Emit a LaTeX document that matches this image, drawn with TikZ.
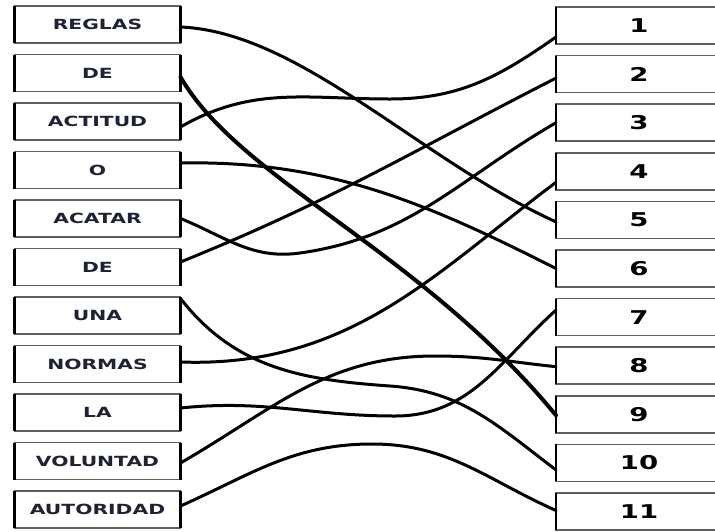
\documentclass[tikz,border=0pt]{standalone}
\usepackage{fontspec}
\newfontfamily\wordfont[FakeStretch=1.45]{DejaVu Sans Bold}
\newfontfamily\numfont[FakeStretch=1.45]{DejaVu Sans Bold}
\usepackage{tikz}
\usetikzlibrary{positioning}
\definecolor{edgegrey}{RGB}{95,95,95}
\definecolor{wordink}{RGB}{30,34,52}

\begin{document}
\begin{tikzpicture}[x=1pt, y=-1pt,
    box/.style={rectangle, draw=edgegrey, line width=1.6pt, minimum width=166pt,
                minimum height=37pt, inner sep=0pt, outer sep=0pt,
                append after command={(\tikzlastnode.north west) edge[line width=2.8pt, black] (\tikzlastnode.south west)}},
    word/.style={box, font=\wordfont\fontsize{14}{16}\selectfont, text=wordink,
                 append after command={(\tikzlastnode.north east) edge[line width=2.8pt, black] (\tikzlastnode.south east)}},
    num/.style={box, font=\numfont\fontsize{19}{21}\selectfont, text=black},
    link/.style={line width=3pt, line cap=round},
    boldlink/.style={line width=4pt, line cap=round}
]
\useasboundingbox (0,0) rectangle (715,531);

% words on the left
\node[word] (reglas) at (97.5,24.5) {REGLAS};
\node[word, below=11.5pt of reglas] (deA) {DE};
\node[word, below=11.5pt of deA] (actitud) {ACTITUD};
\node[word, below=11.5pt of actitud] (o) {O};
\node[word, below=11.5pt of o] (acatar) {ACATAR};
\node[word, below=11.5pt of acatar] (deB) {DE};
\node[word, below=11.5pt of deB] (una) {UNA};
\node[word, below=11.5pt of una] (normas) {NORMAS};
\node[word, below=11.5pt of normas] (la) {LA};
\node[word, below=11.5pt of la] (voluntad) {VOLUNTAD};
\node[word, below=11.5pt of voluntad] (autoridad) {AUTORIDAD};

% numbers on the right
\node[num] (r1) at (639,25.5) {1};
\node[num, below=11.6pt of r1] (r2) {2};
\node[num, below=11.6pt of r2] (r3) {3};
\node[num, below=11.6pt of r3] (r4) {4};
\node[num, below=11.6pt of r4] (r5) {5};
\node[num, below=11.6pt of r5] (r6) {6};
\node[num, below=11.6pt of r6] (r7) {7};
\node[num, below=11.6pt of r7] (r8) {8};
\node[num, below=11.6pt of r8] (r9) {9};
\node[num, below=11.6pt of r9] (r10) {10};
\node[num, below=11.6pt of r10] (r11) {11};

% the crossing lines
\draw[link] ([yshift=-2.5pt]reglas.east) .. controls (300,32) and (420,160) .. ([yshift=-2pt]r5.west);
\draw[boldlink] ([yshift=-4pt]deA.east) .. controls (240,180) and (420,250) .. ([yshift=-1pt]r9.west);
\draw[link] ([yshift=-5.5pt]actitud.east) to[out=30,in=180] (390,99) to[out=0,in=215] ([yshift=-11.5pt]r1.west);
\draw[link] ([yshift=7pt]o.east) .. controls (330,160) and (430,205) .. (r6.west);
\draw[link] (acatar.east) to[out=-22,in=188] (300,253) to[out=8,in=210] (r3.west);
\draw[link] ([yshift=5pt]deB.east) to[out=22,in=207] ([yshift=-4pt]r2.west);
\draw[link] ([yshift=17pt]una.east) to[out=-52,in=176] (390,386) to[out=-4,in=143] ([yshift=-7pt]r10.west);
\draw[link] ([yshift=2pt]normas.east) .. controls (350,368) and (436,272) .. ([yshift=-11pt]r4.west);
\draw[link] ([yshift=4.5pt]la.east) to[out=6,in=180] (395,416) to[out=0,in=222] ([yshift=7pt]r7.west);
\draw[link] ([yshift=-2pt]voluntad.east) to[out=30,in=180] (435,356) to[out=0,in=174] ([yshift=-1pt]r8.west);
\draw[link] ([yshift=3.5pt]autoridad.east) to[out=24,in=180] (372,444) to[out=0,in=156] ([yshift=1pt]r11.west);
\end{tikzpicture}
\end{document}
